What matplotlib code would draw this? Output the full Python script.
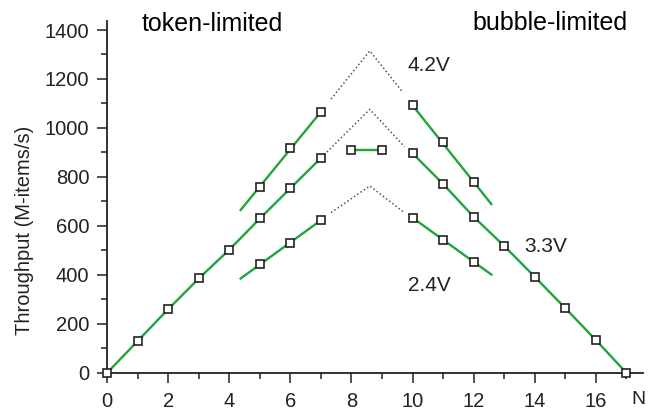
import matplotlib
matplotlib.use("Agg")
from matplotlib import pyplot as plt
from matplotlib.ticker import MultipleLocator
import matplotlib.transforms as mtransforms

plt.rcParams["font.family"] = ["Liberation Sans", "DejaVu Sans"]

# 3.3V: measured points
n33_up = [0, 1, 2, 3, 4, 5, 6, 7]
v33_up = [0, 130, 260, 385, 503, 630, 754, 877]
n33_flat = [8, 9]
v33_flat = [910, 910]
n33_down = [10, 11, 12, 13, 14, 15, 16, 17]
v33_down = [896, 771, 637, 518, 392, 264, 134, 0]

# 4.2V
n42_up = [5, 6, 7]
v42_up = [760, 917, 1066]
n42_down = [10, 11, 12]
v42_down = [1092, 941, 780]
n42_fit_up = [4.37, 7]
v42_fit_up = [665, 1066]
n42_fit_down = [10, 12.58]
v42_fit_down = [1092, 689]

# 2.4V
n24_up = [5, 6, 7]
v24_up = [445, 531, 623]
n24_down = [10, 11, 12]
v24_down = [633, 542, 452]
n24_fit_up = [4.37, 7]
v24_fit_up = [385, 623]
n24_fit_down = [10, 12.58]
v24_fit_down = [633, 401]

# dotted peaks (extrapolation)
n42_dot = [7.33, 8.6, 9.69]
v42_dot = [1118, 1315, 1144]
n33_dot = [7.1, 8.6, 9.74]
v33_dot = [890, 1076, 923]
n24_dot = [7.33, 8.6, 9.69]
v24_dot = [654, 763, 658]

green = "#22a33c"
ink = "#222222"
mk = dict(marker="s", ms=5.5, mfc="white", mec=ink, mew=1.2, ls="none",
          clip_on=False, zorder=4)
ln = dict(color=green, lw=1.7, zorder=3, clip_on=False)
dot = dict(color="#555555", lw=1.1, ls=(0, (1, 1.6)), zorder=2)

fig = plt.figure(figsize=(6.49, 4.11), dpi=100)
ax = fig.add_axes([0.1653, 0.0932, 0.8255, 0.8558])

# green lines
ax.plot(n33_up, v33_up, **ln)
ax.plot(n33_flat, v33_flat, **ln)
ax.plot(n33_down, v33_down, **ln)
ax.plot(n42_fit_up, v42_fit_up, **ln)
ax.plot(n42_fit_down, v42_fit_down, **ln)
ax.plot(n24_fit_up, v24_fit_up, **ln)
ax.plot(n24_fit_down, v24_fit_down, **ln)

# dotted extrapolations
ax.plot(n42_dot, v42_dot, **dot)
ax.plot(n33_dot, v33_dot, **dot)
ax.plot(n24_dot, v24_dot, **dot)

# markers
for xs, ys in [(n33_up, v33_up), (n33_flat, v33_flat), (n33_down, v33_down),
               (n42_up, v42_up), (n42_down, v42_down),
               (n24_up, v24_up), (n24_down, v24_down)]:
    ax.plot(xs, ys, **mk)

ax.set_xlim(0, 17.55)
ax.set_ylim(0, 1437)
ax.xaxis.set_minor_locator(MultipleLocator(1))
ax.yaxis.set_major_locator(MultipleLocator(200))
ax.yaxis.set_minor_locator(MultipleLocator(100))
ax.set_xticks(range(0, 17, 2))

for s in ["top", "right"]:
    ax.spines[s].set_visible(False)
for s in ["left", "bottom"]:
    ax.spines[s].set_linewidth(1.3)
    ax.spines[s].set_color(ink)

ax.tick_params(which="major", length=7, width=1.1, color=ink,
               labelsize=14.5, labelcolor=ink)
ax.tick_params(which="minor", length=4, width=1.1, color=ink)
ax.tick_params(axis="y", which="major", pad=6)
ax.tick_params(axis="x", which="major", pad=7)

fig.text(24 / 649, 1 - 230 / 411, "Throughput (M-items/s)", rotation=90,
         ha="center", va="center", fontsize=14.5, color=ink)

# axis name sits at the right end, level with the tick labels
trans = mtransforms.blended_transform_factory(ax.transData, ax.transAxes)
ax.text(17.18, -0.076, "N", transform=trans, ha="left", va="center",
        fontsize=14, color=ink)

ax.text(1.14, 1424, "token-limited", ha="left", va="center", fontsize=18)
ax.text(11.97, 1428, "bubble-limited", ha="left", va="center", fontsize=18)
ax.text(9.84, 1257, "4.2V", ha="left", va="center", fontsize=15, color=ink)
ax.text(13.67, 515, "3.3V", ha="left", va="center", fontsize=15, color=ink)
ax.text(9.84, 358, "2.4V", ha="left", va="center", fontsize=15, color=ink)

fig.savefig("out.png", dpi=100)
